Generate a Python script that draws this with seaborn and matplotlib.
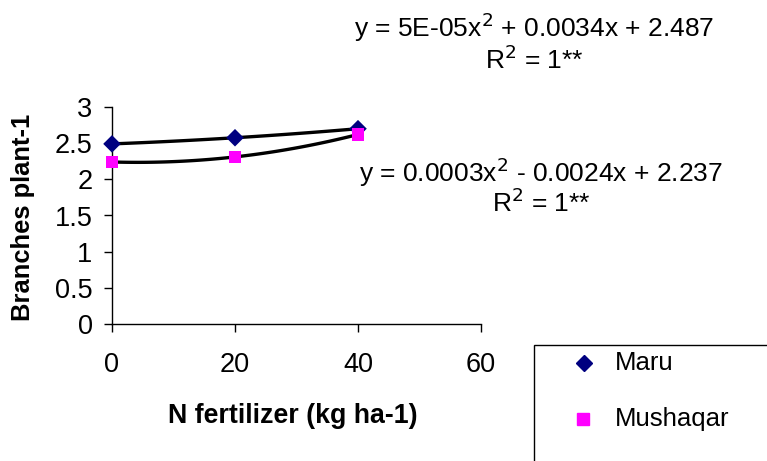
import numpy as np
import pandas as pd
import seaborn as sns
import matplotlib.pyplot as plt
from matplotlib.patches import Rectangle

sns.set_style("white")
plt.rcParams['font.family'] = ['Liberation Sans', 'DejaVu Sans']
plt.rcParams['text.color'] = 'black'
plt.rcParams['axes.labelcolor'] = 'black'
plt.rcParams['xtick.color'] = 'black'
plt.rcParams['ytick.color'] = 'black'

n_levels = [0, 20, 40]
maru = [2.49, 2.575, 2.70]
mushaqar = [2.24, 2.31, 2.62]
series_names = ["Maru", "Mushaqar"]
eq_maru = ["y = 5E-05x$^{2}$ + 0.0034x + 2.487", "R$^{2}$ = 1**"]
eq_mush = ["y = 0.0003x$^{2}$ - 0.0024x + 2.237", "R$^{2}$ = 1**"]

df = pd.DataFrame({
    "N": n_levels * 2,
    "val": maru + mushaqar,
    "var": [series_names[0]] * 3 + [series_names[1]] * 3,
})

fig = plt.figure(figsize=(7.67, 4.61), dpi=100)
ax = fig.add_axes([112/767, 1-324/461, (481-112)/767, (324-107)/461])

# trendlines (2nd order polynomial)
for name, vals in zip(series_names, [maru, mushaqar]):
    c = np.polyfit(n_levels, vals, 2)
    xs = np.linspace(0, 40, 100)
    ax.plot(xs, np.polyval(c, xs), color='black', lw=2.4, zorder=2)

sns.scatterplot(data=df, x="N", y="val", hue="var", style="var",
                palette={"Maru": "#000080", "Mushaqar": "#FF00FF"},
                markers={"Maru": "D", "Mushaqar": "s"},
                s=80, edgecolor='none', ax=ax, zorder=3, legend=False)

ax.set_xlim(0, 60)
ax.set_ylim(0, 3)
ax.set_xticks([0, 20, 40, 60])
ax.set_yticks([0, 0.5, 1, 1.5, 2, 2.5, 3])
ax.set_yticklabels(["0", "0.5", "1", "1.5", "2", "2.5", "3"])
ax.tick_params(axis='both', labelsize=19.5, direction='out', length=6, width=1,
               color='black', labelcolor='black', left=True, bottom=True)
ax.tick_params(axis='x', pad=14)
ax.tick_params(axis='y', pad=8)
for s in ['top', 'right']:
    ax.spines[s].set_visible(False)
for s in ['left', 'bottom']:
    ax.spines[s].set_color('black')
    ax.spines[s].set_linewidth(1)
for coll in ax.collections:
    coll.set_clip_on(False)

ax.set_xlabel("N fertilizer (kg ha-1)", fontsize=19.3, fontweight='bold', color='black')
ax.set_ylabel("Branches plant-1", fontsize=18.4, fontweight='bold', color='black')
ax.xaxis.set_label_coords((293-112)/369, -(416-324)/217)
ax.yaxis.set_label_coords(-(112-23)/369, (324-217)/217)
ax.xaxis.label.set_va('center')
ax.yaxis.label.set_va('center')

# equations
fig.text(534/767, 1-27/461, eq_maru[0], ha='center', va='center', fontsize=19)
fig.text(534/767, 1-60/461, eq_maru[1], ha='center', va='center', fontsize=19)
fig.text(541/767, 1-172/461, eq_mush[0], ha='center', va='center', fontsize=19)
fig.text(541/767, 1-203/461, eq_mush[1], ha='center', va='center', fontsize=19)

# legend box
fig.patches.append(Rectangle((534/767, 1-480/461), 300/767, 135/461,
                             transform=fig.transFigure, fill=False,
                             edgecolor='black', lw=1))
fig.lines.append(plt.Line2D([584/767], [1-363/461], marker='D', color='#000080',
                            markersize=8, linestyle='none', transform=fig.transFigure))
fig.lines.append(plt.Line2D([583/767], [1-419/461], marker='s', color='#FF00FF',
                            markersize=9, linestyle='none', transform=fig.transFigure))
fig.text(615/767, 1-363/461, series_names[0], ha='left', va='center', fontsize=18.5)
fig.text(615/767, 1-419/461, series_names[1], ha='left', va='center', fontsize=18.5)

fig.savefig("out.png", dpi=100)
